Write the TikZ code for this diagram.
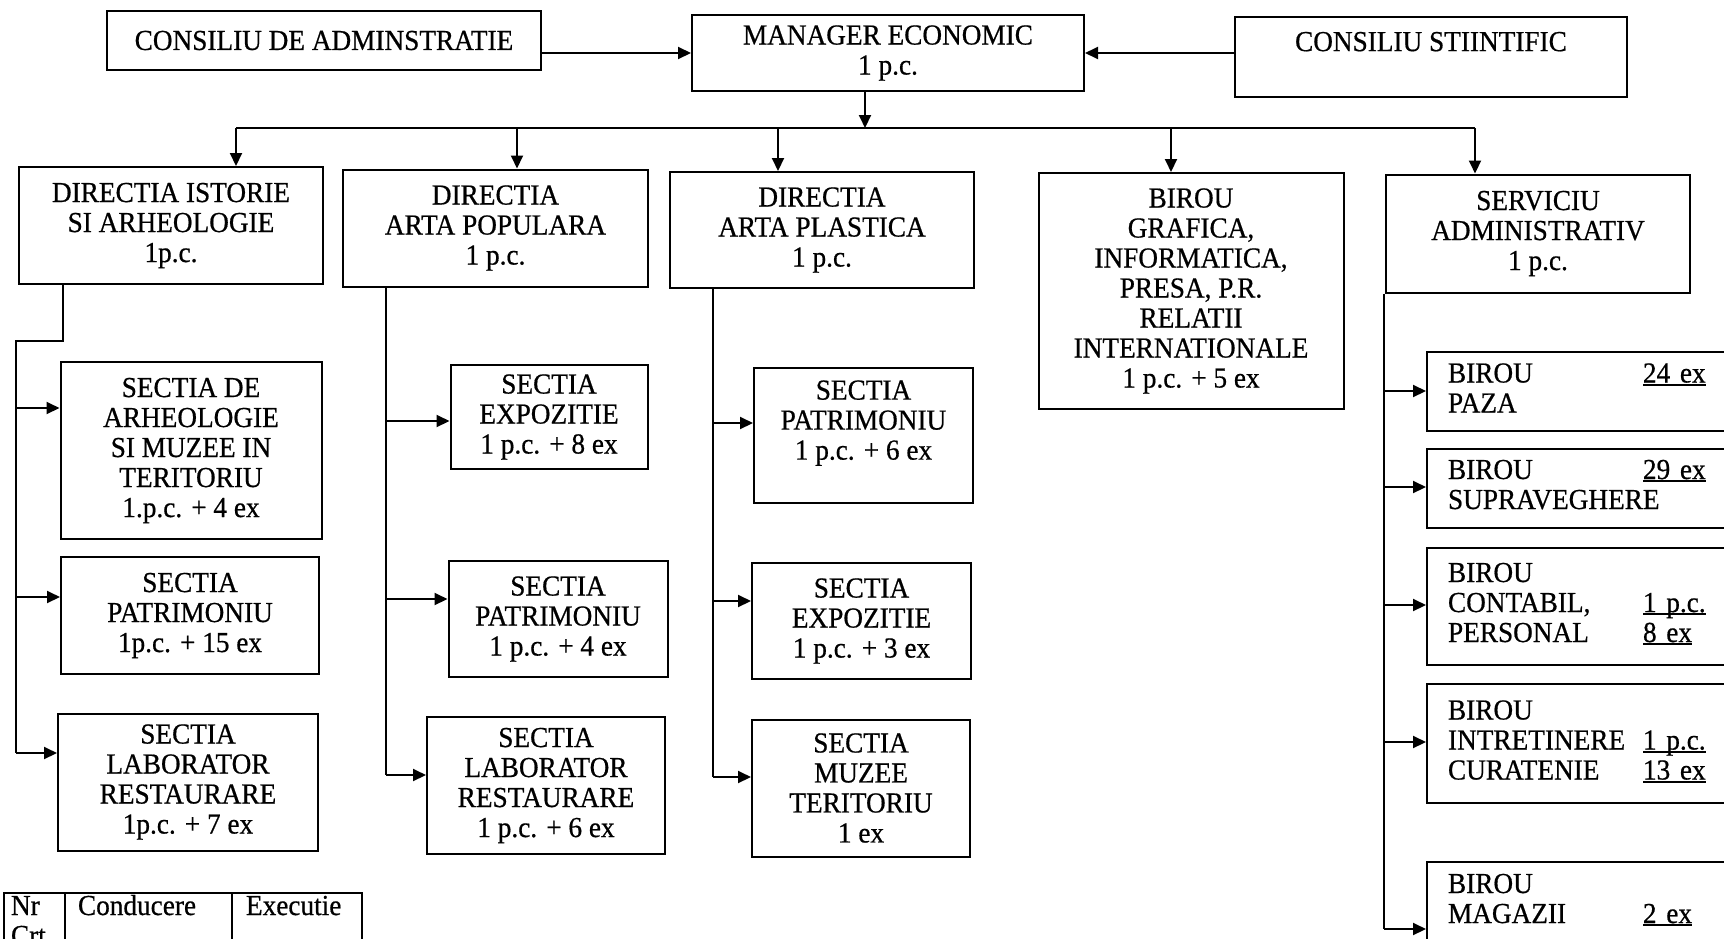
\documentclass[tikz,border=0pt]{standalone}
\usepackage{fontspec}
\setmainfont{Liberation Serif}[FakeStretch=0.94, FakeBold=0.6]
\usetikzlibrary{arrows.meta}
\newcommand{\nrsub}[1]{\setbox0\hbox{#1}\rlap{\rule[-3pt]{\wd0}{1.6pt}}\box0}

\begin{document}
\begin{tikzpicture}[x=1pt, y=-1pt, line width=2pt,
		box/.style={draw, align=center, inner sep=0pt, font=\fontsize{29}{30}\selectfont},
		birou/.style={draw, anchor=west, align=left, text width=360pt, inner xsep=21pt, inner ysep=0pt, font=\fontsize{29}{30}\selectfont},
		arr/.style={-{Triangle[length=13pt,width=12pt]}}]
		\useasboundingbox (0,0) rectangle (1724,938);
		\clip (0,0) rectangle (1724,938);
		% conducere
		\node[box, minimum width=434pt, minimum height=59pt] (consiliuadm) at (324, 40.5) {CONSILIU DE ADMINSTRATIE};
		\node[box, minimum width=392pt, minimum height=76pt] (manager) at (888, 53) {MANAGER ECONOMIC\\1 p.c.};
		\node[box, minimum width=392pt, minimum height=80pt] (consiliustiint) at (1431, 56.5) {CONSILIU STIINTIFIC\\\mbox{}};
		\draw[arr] (consiliuadm.east |- manager.west) -- (manager.west);
		\draw[arr] (consiliustiint.west |- manager.east) -- (manager.east);
		% directii
		\node[box, minimum width=304pt, minimum height=117pt] (istorie) at (171, 225.5) {DIRECTIA ISTORIE\\SI ARHEOLOGIE\\1p.c.};
		\node[box, minimum width=305pt, minimum height=117pt] (populara) at (495.5, 228) {DIRECTIA\\ARTA POPULARA\\1 p.c.};
		\node[box, minimum width=304pt, minimum height=116pt] (plastica) at (822, 230) {DIRECTIA\\ARTA PLASTICA\\1 p.c.};
		\node[box, minimum width=305pt, minimum height=236pt] (grafica) at (1191, 291) {BIROU\\GRAFICA,\\INFORMATICA,\\PRESA, P.R.\\RELATII\\INTERNATIONALE\\1 p.c. + 5 ex};
		\node[box, minimum width=304pt, minimum height=118pt] (serviciu) at (1538, 233.5) {SERVICIU\\ADMINISTRATIV\\1 p.c.};
		\coordinate (bus) at (865, 128);
		\coordinate (t1) at (236, 128);
		\coordinate (t2) at (517, 128);
		\coordinate (t3) at (778, 128);
		\coordinate (t4) at (1171, 128);
		\coordinate (t5) at (1475, 128);
		\draw[arr] (bus |- manager.south) -- (bus);
		\draw (t1) -- (t5);
		\draw[arr] (t1) -- (t1 |- istorie.north);
		\draw[arr] (t2) -- (t2 |- populara.north);
		\draw[arr] (t3) -- (t3 |- plastica.north);
		\draw[arr] (t4) -- (t4 |- grafica.north);
		\draw[arr] (t5) -- (t5 |- serviciu.north);
		% sectii istorie
		\node[box, minimum width=261pt, minimum height=177pt] (arheologie) at (191, 450.5) {SECTIA DE\\ARHEOLOGIE\\SI MUZEE IN\\TERITORIU\\1.p.c. + 4 ex};
		\node[box, minimum width=258pt, minimum height=117pt] (patrimoniu1) at (190, 615.5) {SECTIA\\PATRIMONIU\\1p.c. + 15 ex};
		\node[box, minimum width=260pt, minimum height=137pt] (laborator1) at (188, 782) {SECTIA\\LABORATOR\\RESTAURARE\\1p.c. + 7 ex};
		\coordinate (k1) at (63, 341);
		\coordinate (a1) at (16, 408);
		\coordinate (a2) at (16, 597);
		\coordinate (a3) at (16, 753);
		\draw (k1 |- istorie.south) -- (k1) -- (k1 -| a1) -- (a3);
		\draw[arr] (a1) -- (a1 -| arheologie.west);
		\draw[arr] (a2) -- (a2 -| patrimoniu1.west);
		\draw[arr] (a3) -- (a3 -| laborator1.west);
		% sectii arta populara
		\node[box, minimum width=197pt, minimum height=104pt] (expozitie2) at (549, 417) {SECTIA\\EXPOZITIE\\1 p.c. + 8 ex};
		\node[box, minimum width=219pt, minimum height=116pt] (patrimoniu2) at (558, 619) {SECTIA\\PATRIMONIU\\1 p.c. + 4 ex};
		\node[box, minimum width=238pt, minimum height=137pt] (laborator2) at (546, 785.5) {SECTIA\\LABORATOR\\RESTAURARE\\1 p.c. + 6 ex};
		\coordinate (b1) at (386, 421);
		\coordinate (b2) at (386, 599);
		\coordinate (b3) at (386, 775);
		\draw (b3 |- populara.south) -- (b3);
		\draw[arr] (b1) -- (b1 -| expozitie2.west);
		\draw[arr] (b2) -- (b2 -| patrimoniu2.west);
		\draw[arr] (b3) -- (b3 -| laborator2.west);
		% sectii arta plastica
		\node[box, minimum width=219pt, minimum height=135pt] (patrimoniu3) at (863.5, 435) {SECTIA\\PATRIMONIU\\1 p.c. + 6 ex\\\mbox{}};
		\node[box, minimum width=219pt, minimum height=116pt] (expozitie3) at (861.5, 621) {SECTIA\\EXPOZITIE\\1 p.c. + 3 ex};
		\node[box, minimum width=218pt, minimum height=137pt] (muzee3) at (861, 788) {SECTIA\\MUZEE\\TERITORIU\\1 ex};
		\coordinate (c1) at (712.5, 423);
		\coordinate (c2) at (712.5, 601);
		\coordinate (c3) at (712.5, 777);
		\draw (c3 |- plastica.south) -- (c3);
		\draw[arr] (c1) -- (c1 -| patrimoniu3.west);
		\draw[arr] (c2) -- (c2 -| expozitie3.west);
		\draw[arr] (c3) -- (c3 -| muzee3.west);
		% birouri serviciu administrativ
		\node[birou, minimum height=79pt] (paza) at (1426, 391.5) {\begin{tabular}{@{}p{195pt}@{}l@{}}BIROU & \nrsub{24 ex}\\PAZA & \end{tabular}};
		\node[birou, minimum height=79pt] (supraveghere) at (1426, 488) {\begin{tabular}{@{}p{195pt}@{}l@{}}BIROU & \nrsub{29 ex}\\SUPRAVEGHERE & \end{tabular}};
		\node[birou, minimum height=117pt] (contabil) at (1426, 606) {\begin{tabular}{@{}p{195pt}@{}l@{}}BIROU & \\CONTABIL, & \nrsub{1 p.c.}\\PERSONAL & \nrsub{8 ex}\end{tabular}};
		\node[birou, minimum height=119pt] (intretinere) at (1426, 743.5) {\begin{tabular}{@{}p{195pt}@{}l@{}}BIROU & \\INTRETINERE & \nrsub{1 p.c.}\\CURATENIE & \nrsub{13 ex}\end{tabular}};
		\node[birou, minimum height=80pt] (magazii) at (1426, 902) {\begin{tabular}{@{}p{195pt}@{}l@{}}BIROU & \\MAGAZII & \nrsub{2 ex}\end{tabular}};
		\coordinate (d1) at (1384, 391);
		\coordinate (d2) at (1384, 487);
		\coordinate (d3) at (1384, 605);
		\coordinate (d4) at (1384, 742);
		\coordinate (d5) at (1384, 929);
		\draw (d5 |- serviciu.south) -- (d5);
		\draw[arr] (d1) -- (d1 -| paza.west);
		\draw[arr] (d2) -- (d2 -| supraveghere.west);
		\draw[arr] (d3) -- (d3 -| contabil.west);
		\draw[arr] (d4) -- (d4 -| intretinere.west);
		\draw[arr] (d5) -- (d5 -| magazii.west);
		% tabel
		\draw (4, 960) -- (4, 893) -- (362, 893) -- (362, 960);
		\draw (65, 893) -- (65, 960);
		\draw (232, 893) -- (232, 960);
		\node[anchor=base west, inner sep=0pt, font=\fontsize{29}{30}\selectfont] (nr) at (10, 915) {Nr};
		\node[anchor=base west, inner sep=0pt, font=\fontsize{29}{30}\selectfont] (crt) at (10, 945) {Crt};
		\node[anchor=base west, inner sep=0pt, font=\fontsize{29}{30}\selectfont] (conducere) at (77, 915) {Conducere};
		\node[anchor=base west, inner sep=0pt, font=\fontsize{29}{30}\selectfont] (executie) at (245, 915) {Executie};
\end{tikzpicture}
\end{document}
